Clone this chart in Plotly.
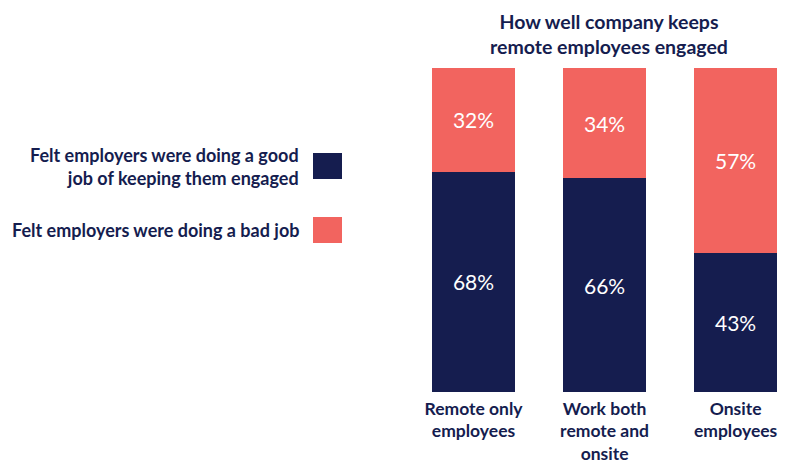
import plotly.graph_objects as go

categories = ["Remote only<br>employees", "Work both<br>remote and<br>onsite", "Onsite<br>employees"]
good = [68, 66, 43]
bad = [32, 34, 57]
series_names = ["Felt employers were doing a good<br>job of keeping them engaged",
                "Felt employers were doing a bad job"]
title_text = "How well company keeps<br>remote employees engaged"

NAVY = "#151d4f"
CORAL = "#f2645f"
FONT = "Lato"

xs = [0, 1, 2]
fig = go.Figure()
fig.add_trace(go.Bar(x=xs, y=good, marker_color=NAVY, marker_line_width=0,
                     text=[f"{v}%" for v in good], textposition="inside",
                     insidetextanchor="middle",
                     textfont=dict(color="white", size=21, family=FONT),
                     showlegend=False, hoverinfo="skip"))
fig.add_trace(go.Bar(x=xs, y=bad, marker_color=CORAL, marker_line_width=0,
                     text=[f"{v}%" for v in bad], textposition="inside",
                     insidetextanchor="middle",
                     textfont=dict(color="white", size=21, family=FONT),
                     showlegend=False, hoverinfo="skip"))

fig.update_layout(
    barmode="stack", bargap=0.366,
    width=792, height=464,
    margin=dict(l=408, r=4, t=68, b=72),
    paper_bgcolor="white", plot_bgcolor="white",
    font=dict(family=FONT, color=NAVY),
    uniformtext=dict(mode=False),
    xaxis=dict(range=[-0.5, 2.4], tickvals=xs, ticktext=[f"<b>{c}</b>" for c in categories],
               tickfont=dict(size=17.5, color=NAVY, family=FONT),
               showgrid=False, zeroline=False, showline=False, ticks="",
               automargin=False, ticklabelstandoff=4),
    yaxis=dict(range=[0, 100], visible=False, automargin=False),
)

fig.add_annotation(xref="paper", yref="paper", x=0.53, y=1.0, yshift=60,
                   xanchor="center", yanchor="top", showarrow=False,
                   text=f"<b>{title_text}</b>",
                   font=dict(size=19.5, color=NAVY, family=FONT))

# Custom legend on the left
legend_colors = [NAVY, CORAL]
legend_y = [166, 230]  # pixel centers
for name, col, cy in zip(series_names, legend_colors, legend_y):
    fig.add_shape(type="rect", xref="paper", yref="paper",
                  x0=(313 - 408) / 380, x1=(342 - 408) / 380,
                  y0=(392 - (cy + 13)) / 324, y1=(392 - (cy - 13)) / 324,
                  fillcolor=col, line_width=0)
    fig.add_annotation(xref="paper", yref="paper", x=(301 - 408) / 380,
                       y=(392 - cy) / 324, xanchor="right", yanchor="middle",
                       align="right", showarrow=False, text=f"<b>{name}</b>",
                       font=dict(size=18, color=NAVY, family=FONT))

fig.write_html("out.html")
